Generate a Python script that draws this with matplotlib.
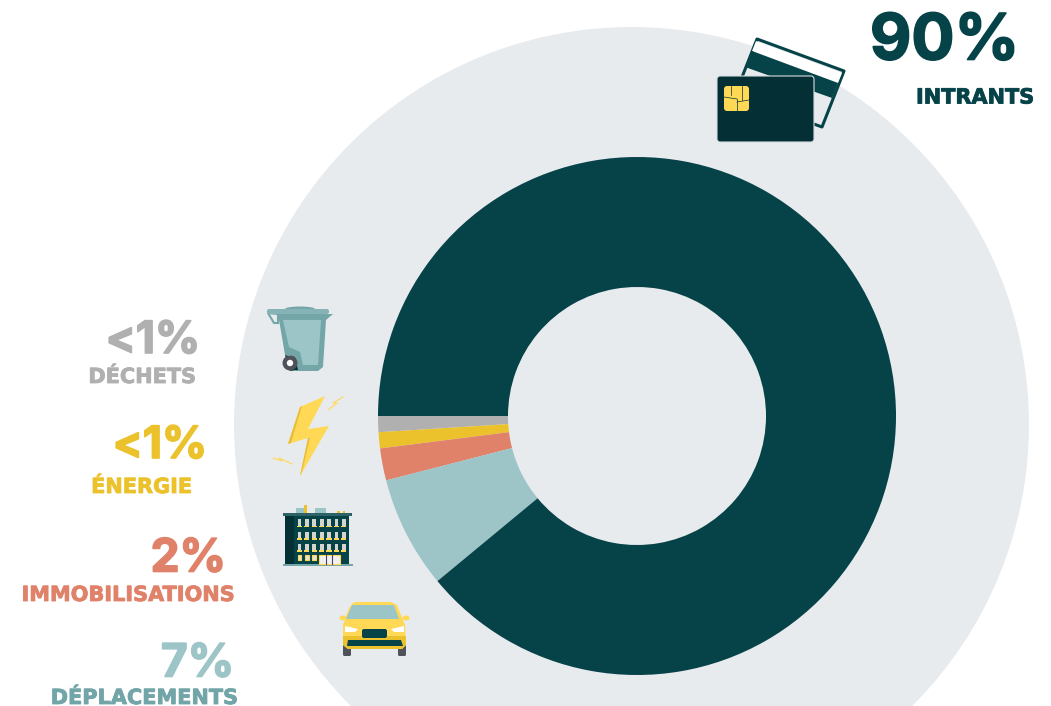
import matplotlib
matplotlib.use('Agg')
import matplotlib.pyplot as plt
import matplotlib.patheffects as pe
from matplotlib.patches import Circle, Ellipse, FancyBboxPatch, Polygon, Rectangle

# slices, in drawing order from the left going down
shares = [1, 1, 2, 7, 89]
slice_colors = ['#b0b0b0', '#ecc22c', '#e0826a', '#9dc5c8', '#064349']

pct_labels = ['90%', '<1%', '<1%', '2%', '7%']
names = ['INTRANTS', 'DÉCHETS', 'ÉNERGIE', 'IMMOBILISATIONS', 'DÉPLACEMENTS']
pct_colors = ['#064349', '#b0b0b0', '#ecc22c', '#e0826a', '#9dc5c8']
name_colors = ['#064349', '#b0b0b0', '#ecc22c', '#e0826a', '#72a5a8']
pct_x = [1019, 200, 207, 226, 234]
pct_y = [59.5, 353, 458, 571.5, 676.5]
name_x = [1034, 196, 192, 234, 238]
name_y = [103.5, 383, 493, 601, 704]
pct_size = [46, 32, 32, 33, 33]

BG = '#e8ebee'
DARK = '#064349'
DARKER = '#032f35'
YEL = '#ffd955'
GOLD = '#ecc22c'
TEAL = '#74a6a8'
LIGHT = '#9cc5c8'
GREY = '#4f5258'

fig = plt.figure(figsize=(10.51, 7.06), dpi=100)
ax = fig.add_axes([0, 0, 1, 1])

ax.add_patch(Circle((631.5, 424.5), 397.5, fc=BG, ec='none', zorder=0))
ax.pie(shares, colors=slice_colors, center=(637, 416), radius=259, startangle=180,
       counterclock=False, frame=True, wedgeprops=dict(width=130, linewidth=0))
ax.set_xlim(0, 1051)
ax.set_ylim(706, 0)
ax.axis('off')


def poly(pts, c, z=3, **kw):
    ax.add_patch(Polygon(pts, closed=True, fc=c, ec=kw.pop('ec', 'none'), zorder=z, **kw))


def rect(x0, y0, x1, y1, c, z=3, r=0, ec='none', lw=0):
    if r:
        ax.add_patch(FancyBboxPatch((x0, y0), x1 - x0, y1 - y0, boxstyle='round,pad=0,rounding_size=%s' % r,
                                    fc=c, ec=ec, lw=lw, zorder=z))
    else:
        ax.add_patch(Rectangle((x0, y0), x1 - x0, y1 - y0, fc=c, ec=ec, lw=lw, zorder=z))


def draw_card():
    poly([(757, 39), (844, 71), (822, 127), (735, 95)], BG, ec=DARK, lw=2.2, joinstyle='round')
    poly([(756, 41), (842, 73), (838, 83), (752, 51)], 'white', z=3.1)
    poly([(752, 51), (838, 83), (832, 98), (745, 67)], DARK, z=3.2)
    rect(717, 76, 814, 142, DARKER, z=4, r=3, ec='#d5dcdf', lw=0.8)
    rect(724, 86, 749, 111, YEL, z=5, r=3)
    for seg in [((731, 86), (731, 95)), ((742, 86), (742, 100)), ((724, 97), (737, 99)),
                ((737, 99), (737, 111)), ((737, 102), (749, 100))]:
        ax.plot(*zip(*seg), color=DARKER, lw=0.5, zorder=6)


def draw_bin():
    ax.add_patch(Ellipse((300, 309), 30, 5, fc=TEAL, ec='none', zorder=3))
    poly([(268, 313), (278, 314), (278, 323), (274, 323)], 'none', ec=TEAL, lw=1.5)
    poly([(278, 314), (333, 314), (326, 320), (323, 367), (318, 371), (296, 371), (290, 355), (285, 355)], TEAL)
    rect(267, 309, 329, 314, '#86b4b6', z=3.2, r=2)
    poly([(283, 320), (321, 320), (318, 365), (303, 365), (300, 352), (289, 347)], LIGHT, z=3.3)
    poly([(285, 355), (295, 357), (298, 370), (290, 371)], DARKER, z=3.4)
    ax.add_patch(Circle((290, 363), 7.5, fc=GREY, ec='none', zorder=4))
    ax.add_patch(Circle((290, 363), 3.2, fc='white', ec='none', zorder=5))


def draw_bolt():
    poly([(325, 396), (300, 407), (288, 444), (308, 438), (300, 476), (329, 426), (308, 429)], YEL)
    poly([(300, 407), (288, 444), (291, 443), (302, 406)], '#e9bd3a', z=3.1)
    poly([(308, 438), (300, 476), (302, 472), (310, 438)], '#e9bd3a', z=3.1)
    ax.plot([343, 333, 337, 328], [397, 403, 403, 410], color=YEL, lw=0.8, zorder=3)
    ax.plot([273, 282, 279, 292], [458, 461, 458, 464], color=YEL, lw=0.8, zorder=3)


def draw_building():
    rect(296, 508, 307, 513, LIGHT)
    rect(315, 508, 326, 513, LIGHT)
    rect(304, 505, 307, 513, GOLD, z=3.1)
    rect(337, 511, 340, 513, GOLD)
    rect(343, 511, 345, 513, GOLD)
    rect(285, 515, 349, 564, DARK)
    rect(285, 515, 294, 564, DARKER, z=3.1)
    rect(283, 513, 352, 516, '#2d6267', z=3.2)
    rect(283, 564, 353, 566, TEAL)
    for wy in [519, 531.5, 543.5]:
        for i in range(7):
            wx = 297.5 + 7.4 * i
            rect(wx, wy, wx + 3.8, wy + 6.5, '#d6d4cf', z=3.3)
            rect(wx - 0.7, wy + 6.5, wx + 4.5, wy + 8.3, YEL, z=3.35)
    for wx in [297.5, 304.9, 312.3]:
        rect(wx, 555, wx + 3.8, 560, '#e4e3e0', z=3.3, ec=YEL, lw=0.8)
    rect(319, 555, 340, 564, '#f1f0ee', z=3.3, ec=YEL, lw=0.8)
    for dx in [326, 332]:
        ax.plot([dx, dx], [555, 564], color='#4b3f6b', lw=0.8, zorder=3.4)


def draw_car():
    rect(343, 638, 351, 656, GREY, r=1.5)
    rect(398, 638, 406, 656, GREY, r=1.5)
    ax.add_patch(Ellipse((343, 618), 7, 5, fc=YEL, ec='none', zorder=3))
    ax.add_patch(Ellipse((406, 618), 7, 5, fc=YEL, ec='none', zorder=3))
    poly([(353, 603), (356, 602), (391, 602), (397, 605), (405, 625), (406, 645), (402, 649),
          (348, 649), (343, 645), (343, 625), (349, 608)], YEL, z=3.1)
    poly([(343, 636), (406, 636), (406, 645), (402, 649), (348, 649), (343, 645)], GOLD, z=3.2)
    poly([(352, 605), (394, 605), (399, 619), (346, 619)], LIGHT, z=3.3)
    poly([(345, 626), (358, 629), (355, 632), (345, 632)], 'white', z=3.3)
    poly([(404, 626), (391, 629), (394, 632), (404, 632)], 'white', z=3.3)
    rect(362, 629, 387, 638, DARK, z=3.4, r=2)
    poly([(348, 640), (401, 640), (403, 646), (347, 646)], DARK, z=3.4)


draw_card()
draw_bin()
draw_bolt()
draw_building()
draw_car()

for i in range(len(names)):
    ax.text(pct_x[i], pct_y[i], pct_labels[i], color=pct_colors[i], fontsize=pct_size[i], family='Inter',
            fontweight='bold', ha='right', va='baseline', zorder=7,
            path_effects=[pe.withStroke(linewidth=1.2, foreground=pct_colors[i])])
    ax.text(name_x[i], name_y[i], names[i], color=name_colors[i], fontsize=15, family='DejaVu Sans',
            fontweight='bold', ha='right', va='baseline', zorder=7,
            path_effects=[pe.withStroke(linewidth=0.6, foreground=name_colors[i])])

fig.savefig('out.png', dpi=100)
